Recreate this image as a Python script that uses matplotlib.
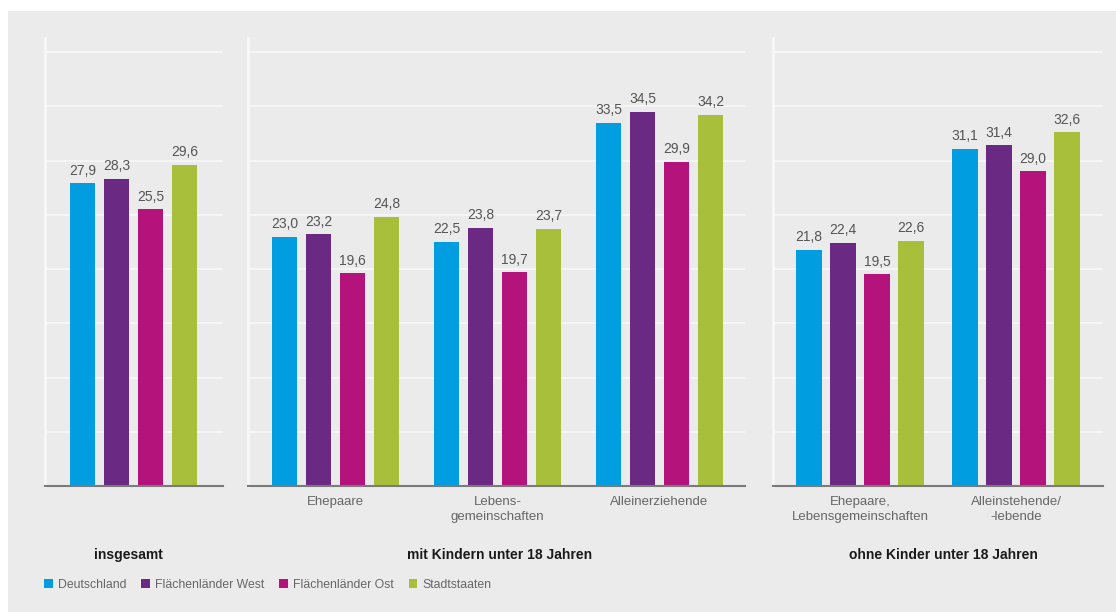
import matplotlib
matplotlib.use('Agg')
import matplotlib.pyplot as plt
from matplotlib.patches import Rectangle, Patch

plt.rcParams['font.family'] = ['Liberation Sans', 'DejaVu Sans']

# Data
series = ['Deutschland', 'Flächenländer West', 'Flächenländer Ost', 'Stadtstaaten']
colors = ['#009ee0', '#6a2a83', '#b3137b', '#a8bf3b']

insgesamt_cats = ['']
insgesamt_vals = [[27.9], [28.3], [25.5], [29.6]]

mit_cats = ['Ehepaare', 'Lebens-\ngemeinschaften', 'Alleinerziehende']
mit_vals = [
    [23.0, 22.5, 33.5],
    [23.2, 23.8, 34.5],
    [19.6, 19.7, 29.9],
    [24.8, 23.7, 34.2],
]

ohne_cats = ['Ehepaare,\nLebensgemeinschaften', 'Alleinstehende/\n-lebende']
ohne_vals = [
    [21.8, 31.1],
    [22.4, 31.4],
    [19.5, 29.0],
    [22.6, 32.6],
]

group_titles = ['insgesamt', 'mit Kindern unter 18 Jahren', 'ohne Kinder unter 18 Jahren']

W, H = 1116, 612
BG = '#ebebeb'
fig = plt.figure(figsize=(W / 100, H / 100), dpi=100)
fig.patch.set_facecolor('white')
fig.add_artist(Rectangle((8 / W, 0), 1, (H - 11) / H, transform=fig.transFigure,
                         facecolor=BG, edgecolor='none', zorder=0))

y_base, y_top = 486, 38
bottom = (H - y_base) / H
height = (y_base - y_top) / H
ymax = 41.3
bar_px = 34.0  # one x unit in pixels


def panel(x0, x1, first_center, step, cats, vals, title, title_x):
    ax = fig.add_axes([x0 / W, bottom, (x1 - x0) / W, height])
    ax.set_facecolor('none')
    left = -(first_center - x0) / bar_px
    right = (x1 - first_center) / bar_px
    ax.set_xlim(left, right)
    ax.set_ylim(0, ymax)
    centers = [i * step for i in range(len(cats))]
    for s in range(len(series)):
        xs = [c + (s - 1.5) for c in centers]
        bars = ax.bar(xs, vals[s], width=0.74, color=colors[s], zorder=3)
        for b, v in zip(bars, vals[s]):
            ax.annotate(f'{v:.1f}'.replace('.', ','),
                        (b.get_x() + b.get_width() / 2, v),
                        xytext=(0, 4), textcoords='offset points',
                        ha='center', va='bottom', fontsize=10, color='#555555')
    for g in range(5, 45, 5):
        if g < ymax:
            ax.axhline(g, color='#f8f8f8', lw=1.2, zorder=1)
    for sp in ['top', 'right']:
        ax.spines[sp].set_visible(False)
    ax.spines['left'].set_color('#f8f8f8')
    ax.spines['left'].set_linewidth(2)
    ax.spines['bottom'].set_color('#7a7a7a')
    ax.spines['bottom'].set_linewidth(1.5)
    ax.spines['bottom'].set_zorder(4)
    ax.set_yticks([])
    ax.set_xticks(centers)
    ax.set_xticklabels(cats, fontsize=9.5, color='#666666', linespacing=1.35)
    ax.tick_params(axis='x', length=0, pad=7)
    fig.text(title_x / W, (H - 555) / H, title, ha='center', va='center',
             fontsize=10, fontweight='bold', color='#1a1a1a')
    return ax


panel(45, 223, 133.5, 4.7, insgesamt_cats, insgesamt_vals, group_titles[0], 128)
panel(248, 745, 335.5, 162 / bar_px, mit_cats, mit_vals, group_titles[1], 500)
panel(773, 1103, 860, 156 / bar_px, ohne_cats, ohne_vals, group_titles[2], 943)

handles = [Patch(facecolor=c, edgecolor='none', label=s) for c, s in zip(colors, series)]
leg = fig.legend(handles=handles, loc='center left',
                 bbox_to_anchor=(33 / W, (H - 585) / H), ncol=4, frameon=False,
                 handlelength=0.7, handleheight=0.7, handletextpad=0.45,
                 columnspacing=1.2, fontsize=8.8)
for t in leg.get_texts():
    t.set_color('#666666')

fig.savefig('out.png', dpi=100, facecolor=fig.get_facecolor())
